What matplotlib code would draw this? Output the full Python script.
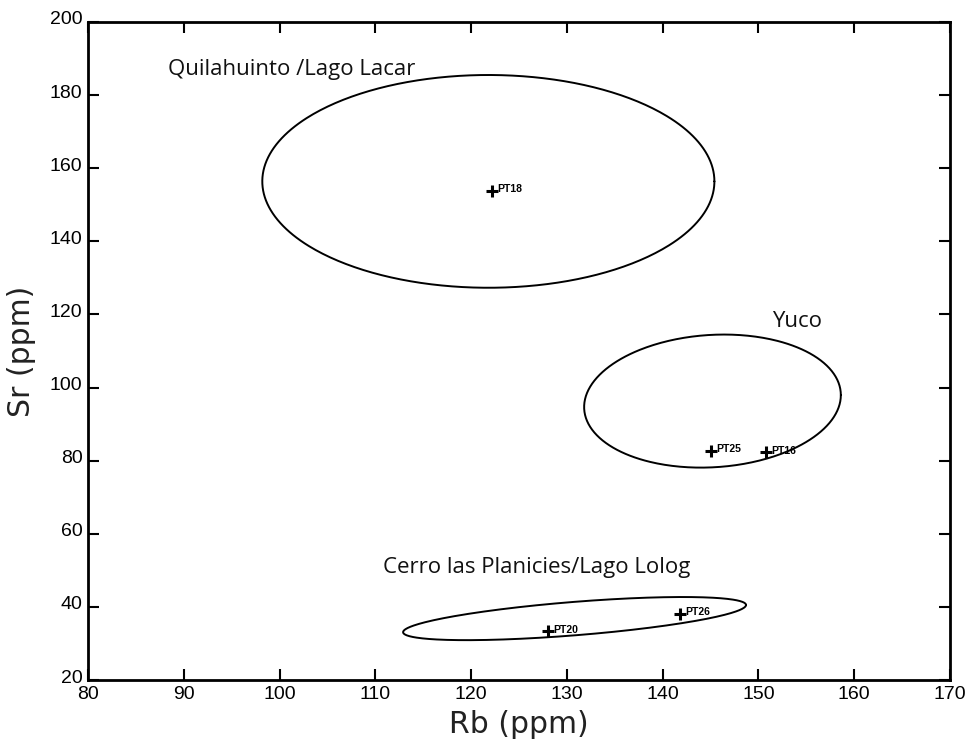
import numpy as np
import matplotlib
matplotlib.use("Agg")
import matplotlib.pyplot as plt
import matplotlib.transforms as mtransforms

# sample points (Rb, Sr in ppm)
sample_names = ["PT18", "PT25", "PT16", "PT20", "PT26"]
sample_rb = [122.2, 145.0, 150.8, 128.0, 141.8]
sample_sr = [153.8, 82.7, 82.4, 33.4, 38.1]

# field ellipses: centre, half width, half height, tilt (cos of phase)
field_names = ["Quilahuinto /Lago Lacar", "Yuco", "Cerro las Planicies/Lago Lolog"]
field_rb = [121.8, 145.2, 130.8]
field_sr = [156.4, 96.3, 36.8]
field_half_rb = [23.6, 13.4, 17.9]
field_half_sr = [29.1, 18.2, 5.9]
field_tilt = [0.0, 0.09, 0.63]

# where the field names sit (left edge, centre height)
label_rb = [88.4, 151.4, 110.8]
label_sr = [186.9, 118.2, 50.7]

fig = plt.figure(figsize=(9.72, 7.48), dpi=100)
ax = fig.add_axes([0.0905, 0.0909, 0.8869, 0.8797])

# Draw the ellipses
t = np.linspace(0, 2 * np.pi, 400)
for i in range(len(field_names)):
    phi = np.arccos(field_tilt[i])
    ex = field_rb[i] + field_half_rb[i] * np.cos(t)
    ey = field_sr[i] + field_half_sr[i] * np.cos(t - phi)
    ax.plot(ex, ey, color="black", lw=1.4, solid_capstyle="round",
            solid_joinstyle="round")
    ax.text(label_rb[i], label_sr[i], field_names[i], fontsize=16,
            family="Open Sans", va="center", ha="left", color="#111111")

# Samples
ax.plot(sample_rb, sample_sr, linestyle="none", marker="+", ms=9, mew=2.2,
        color="black")
for i in range(len(sample_names)):
    ax.annotate(sample_names[i], (sample_rb[i], sample_sr[i]),
                xytext=(4, 1), textcoords="offset points",
                fontsize=7.5, fontweight="bold", family="Liberation Sans",
                va="center", ha="left")

ax.set_xlim(80, 170)
ax.set_ylim(20, 200)
ax.set_xticks(np.arange(80, 171, 10))
ax.set_yticks(np.arange(20, 201, 20))

for s in ax.spines.values():
    s.set_linewidth(2.0)

ax.tick_params(direction="in", length=8, width=1.5, top=True, right=True,
               labelsize=14)
ax.tick_params(axis="x", pad=4)
ax.tick_params(axis="y", pad=4)
for lab in ax.get_xticklabels() + ax.get_yticklabels():
    lab.set_family("Liberation Sans")

# y tick labels sit a little above their ticks in the original
shift = mtransforms.ScaledTranslation(0, 4 / 100, fig.dpi_scale_trans)
for lab in ax.get_yticklabels():
    lab.set_transform(lab.get_transform() + shift)

ax.set_xlabel("Rb (ppm)", fontsize=21.5, family="DejaVu Sans", labelpad=5,
              color="#222222")
ax.set_ylabel("Sr (ppm)", fontsize=21.5, family="DejaVu Sans", labelpad=10,
              color="#222222")

fig.savefig("out.png", dpi=100)
